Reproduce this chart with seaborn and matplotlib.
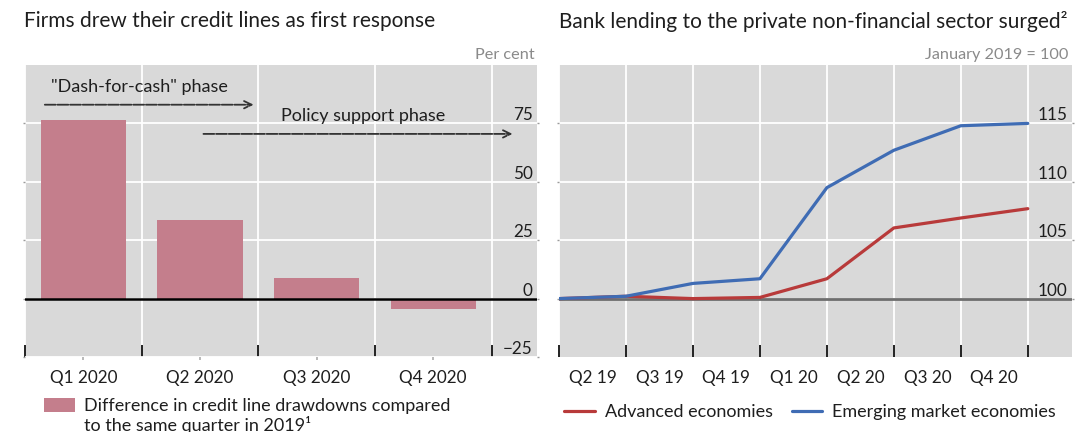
import numpy as np
import pandas as pd
import matplotlib
matplotlib.use("Agg")
import matplotlib.pyplot as plt
from matplotlib.patches import Patch
from matplotlib.lines import Line2D
import seaborn as sns

# Left panel: credit line drawdowns vs same quarter of 2019 (per cent)
quarters = ["Q1 2020", "Q2 2020", "Q3 2020", "Q4 2020"]
drawdown_diff = [76.5, 33.5, 8.8, -4.3]

# Right panel: bank lending index (January 2019 = 100)
period_idx = [0, 1, 2, 3, 4, 5, 6, 7]
period_labels = ["Q2 19", "Q3 19", "Q4 19", "Q1 20", "Q2 20", "Q3 20", "Q4 20"]
advanced = [100.0, 100.2, 100.0, 100.1, 101.7, 106.05, 106.9, 107.7]
emerging = [100.0, 100.2, 101.3, 101.7, 109.5, 112.7, 114.8, 115.0]

sns.set_theme(style="white")
plt.rcParams["font.family"] = ["Lato", "DejaVu Sans"]

BG = "#d9d9d9"
BAR = "#c47e8c"
RED = "#b83a3a"
BLUE = "#3f6cb4"
TXT = "#1e1e1e"
UNIT = "#8a8a8a"

FS_TICK = 12.3
FS_TEXT = 13.0
FS_TITLE = 15.0
FS_UNIT = 11.7

W, H = 1090, 432
fig = plt.figure(figsize=(W / 100, H / 100), dpi=100)


def box(x0, x1, y0, y1):
    return [x0 / W, 1 - y1 / H, (x1 - x0) / W, (y1 - y0) / H]


ax1 = fig.add_axes(box(25, 537, 65, 357))
ax2 = fig.add_axes(box(559, 1072, 65, 357))

for ax in (ax1, ax2):
    ax.set_facecolor(BG)
    for s in ax.spines.values():
        s.set_visible(False)

# ---- left: bars ----
df_bar = pd.DataFrame({"quarter": quarters, "value": drawdown_diff})
sns.barplot(data=df_bar, x="quarter", y="value", color=BAR, saturation=1,
            width=0.73, linewidth=0, edgecolor="none", ax=ax1, zorder=3)
ax1.set_xlim(-0.5, 3.89)
ax1.set_ylim(-25, 100)
ax1.set_xlabel("")
ax1.set_ylabel("")
ax1.set_yticks([-25, 0, 25, 50, 75])
ax1.set_xticks([0, 1, 2, 3])
ax1.set_xticks([-0.5, 0.5, 1.5, 2.5, 3.5], minor=True)
ax1.grid(True, axis="y", which="major", color="white", lw=1.3, zorder=0)
ax1.grid(True, axis="x", which="minor", color="white", lw=1.3, zorder=0)
ax1.axhline(0, color="black", lw=1.8, zorder=4)
ax1.tick_params(axis="x", which="major", bottom=True, length=2,
                direction="out", color="#b0b0b0", labelsize=FS_TICK,
                labelcolor=TXT, pad=7)
ax1.tick_params(axis="x", which="minor", bottom=True, length=8.5, width=1.4,
                direction="in", color="#222222")

arrow_kw = dict(arrowstyle="->,head_length=0.45,head_width=0.22",
                color="#333333", lw=1.3, linestyle=(0, (6, 1)),
                shrinkA=0, shrinkB=0)
ax1.annotate("", xy=(1.46, 83), xytext=(-0.33, 83), arrowprops=arrow_kw)
ax1.text(-0.28, 90.5, '"Dash-for-cash" phase', fontsize=FS_TEXT, color=TXT,
         va="center", ha="left")
ax1.annotate("", xy=(3.68, 70.5), xytext=(1.03, 70.5), arrowprops=arrow_kw)
ax1.text(2.40, 78, "Policy support phase", fontsize=FS_TEXT, color=TXT,
         va="center", ha="center")

# ---- right: lines ----
df_line = pd.DataFrame({
    "period": period_idx * 2,
    "index": advanced + emerging,
    "group": ["Advanced economies"] * 8 + ["Emerging market economies"] * 8,
})
ax2.axhline(100, color="#6e6e6e", lw=2.0, zorder=2)
sns.lineplot(data=df_line, x="period", y="index", hue="group",
             palette=[RED, BLUE], lw=2.3, ax=ax2, legend=False, zorder=3)
ax2.set_xlim(0, 7.66)
ax2.set_ylim(95, 120)
ax2.set_xlabel("")
ax2.set_ylabel("")
ax2.set_yticks([100, 105, 110, 115])
ax2.set_xticks(period_idx)
ax2.set_xticks([i + 0.5 for i in range(7)], minor=True)
ax2.set_xticklabels([""] * 8)
ax2.set_xticklabels(period_labels, minor=True)
ax2.grid(True, axis="y", which="major", color="white", lw=1.3, zorder=0)
ax2.grid(True, axis="x", which="major", color="white", lw=1.3, zorder=0)
ax2.tick_params(axis="x", which="major", bottom=True, length=8.5, width=1.4,
                direction="in", color="#222222")
ax2.tick_params(axis="x", which="minor", bottom=True, length=0,
                labelsize=FS_TICK, labelcolor=TXT, pad=9)

# value labels sit inside the plot, right-aligned above their gridlines
for ax in (ax1, ax2):
    ax.yaxis.tick_right()
    ax.tick_params(axis="y", which="major", left=True, right=True,
                   length=1.5, width=1, color="#9a9a9a", direction="out",
                   pad=-4.5, labelsize=FS_TICK, labelcolor=TXT)
    for lab in ax.get_yticklabels():
        lab.set_horizontalalignment("right")
        lab.set_verticalalignment("bottom")

# titles and units
fig.text(24 / W, 1 - 21 / H, "Firms drew their credit lines as first response",
         fontsize=FS_TITLE, color=TXT, va="center", ha="left")
fig.text(559 / W, 1 - 21 / H,
         "Bank lending to the private non-financial sector surged²",
         fontsize=FS_TITLE, color=TXT, va="center", ha="left")
fig.text(535 / W, 1 - 55 / H, "Per cent", fontsize=FS_UNIT, color=UNIT,
         va="center", ha="right")
fig.text(1068 / W, 1 - 55 / H, "January 2019 = 100", fontsize=FS_UNIT,
         color=UNIT, va="center", ha="right")

# legends
fig.legend(handles=[Patch(facecolor=BAR, edgecolor="none")],
           labels=["Difference in credit line drawdowns compared"],
           loc="center left", bbox_to_anchor=(44 / W, 1 - 406 / H),
           frameon=False, fontsize=FS_TEXT, handlelength=1.7,
           handleheight=0.8, handletextpad=0.5, borderaxespad=0,
           borderpad=0, labelcolor=TXT)
fig.text(84 / W, 1 - 425 / H, "to the same quarter in 2019¹",
         fontsize=FS_TEXT, color=TXT, va="center", ha="left")
fig.legend(handles=[Line2D([], [], color=RED, lw=2.3),
                    Line2D([], [], color=BLUE, lw=2.3)],
           labels=["Advanced economies", "Emerging market economies"],
           loc="center left", bbox_to_anchor=(564 / W, 1 - 412 / H),
           frameon=False, fontsize=FS_TEXT, ncol=2, handlelength=1.7,
           handletextpad=0.55, columnspacing=1.05, borderaxespad=0,
           borderpad=0, labelcolor=TXT)

fig.savefig("out.png", dpi=100, facecolor="white")
